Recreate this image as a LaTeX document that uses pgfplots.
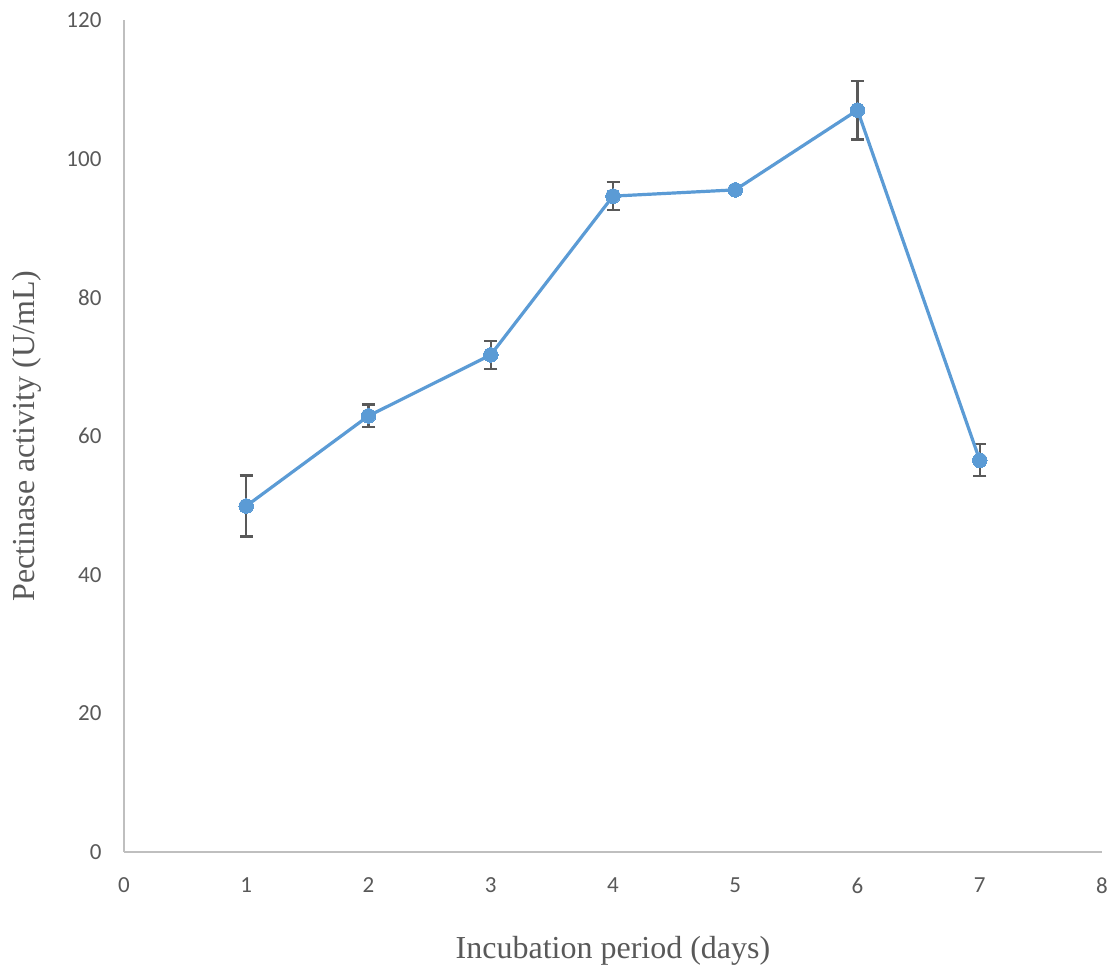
\documentclass[border=0pt]{standalone}
\usepackage{fontspec}
\setmainfont{Carlito}
\newfontfamily\timesfont{Liberation Serif}
\usepackage{pgfplots}
\pgfplotsset{compat=1.18}
\definecolor{lineblue}{HTML}{5B9BD5}
\definecolor{tickgray}{HTML}{595959}
\definecolor{axgray}{HTML}{BFBFBF}
\begin{document}
\begin{tikzpicture}
\path[use as bounding box] (-124pt,-118pt) rectangle (991pt,852pt);
\begin{axis}[
  at={(0pt,0pt)}, anchor=south west,
  scale only axis,
  width=978pt, height=832pt,
  xmin=0, xmax=8, ymin=0, ymax=120,
  xtick={0,1,...,8}, ytick={0,20,...,120},
  axis x line*=bottom, axis y line*=left,
  axis line style={axgray, line width=1.3pt, -},
  major tick length=0pt,
  tick label style={font=\fontsize{23}{27}\selectfont, text=tickgray},
  /pgf/number format/assume math mode=true,
  xticklabel style={yshift=-22pt},
  yticklabel style={xshift=-19pt},
  xlabel={\timesfont\fontsize{32}{38}\selectfont Incubation period (days)},
  ylabel={\timesfont\fontsize{32}{38}\selectfont Pectinase activity (U/mL)},
  xlabel style={text=tickgray, yshift=-36pt},
  ylabel style={text=tickgray, yshift=18pt},
  clip=false,
]
\addplot[draw=none, mark=none,
  error bars/.cd, y dir=both, y explicit,
  error bar style={tickgray, line width=2.2pt},
  error mark options={rotate=90, mark size=6.5pt, tickgray, line width=2.2pt}]
  coordinates {
  (1,49.9) +- (0,4.4)
  (2,62.9) +- (0,1.65)
  (3,71.7) +- (0,2.0)
  (4,94.6) +- (0,2.05)
  (5,95.5) +- (0,0.5)
  (6,107.0) +- (0,4.25)
  (7,56.5) +- (0,2.3)
  };
\addplot[lineblue, line width=3.2pt, mark=*, mark size=7.3pt,
  mark options={fill=lineblue, draw=lineblue, line width=0pt}]
  coordinates {
  (1,49.9) (2,62.9) (3,71.7) (4,94.6) (5,95.5) (6,107.0) (7,56.5)
  };
\end{axis}
\end{tikzpicture}
\end{document}
